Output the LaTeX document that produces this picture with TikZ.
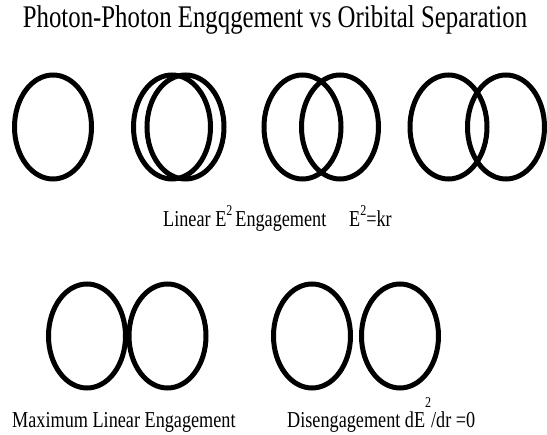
\documentclass[tikz,border=0pt]{standalone}
\usepackage{fontspec}
\setmainfont{Liberation Serif}
\usetikzlibrary{shapes.geometric, positioning}
\tikzstyle{orbit}   = [ellipse, draw=black, line width=5pt, minimum width=77pt,
                       minimum height=104pt, inner sep=0pt]
\tikzstyle{heading} = [font=\fontsize{24.8}{28}\selectfont, yscale=1.27,
                       transform shape, inner sep=0pt]
\tikzstyle{caption} = [font=\fontsize{18.2}{22}\selectfont, yscale=1.25,
                       transform shape, inner sep=0pt]
\newcommand{\sqr}[1]{\raisebox{#1}{\fontsize{12}{12}\selectfont 2}}

\begin{document}
\begin{tikzpicture}[x=1pt, y=1pt]
  \useasboundingbox (0,0) rectangle (547,-435);

  % Title
  \node (title) [heading, anchor=base] at (275,-28)
    {Photon-Photon Engqgement vs Oribital Separation};

  % Top row of orbits
  \node (r1a) [orbit] at (53,-127)    {};
  \node (r2a) [orbit] at (172,-127)   {};
  \node (r2b) [orbit] at (185.5,-127) {};
  \node (r3a) [orbit] at (302.5,-127) {};
  \node (r3b) [orbit] at (340,-127)   {};
  \node (r4a) [orbit] at (448.5,-127) {};
  \node (r4b) [orbit] at (506,-127)   {};

  % Labels under top row
  \node (linear) [caption, anchor=base west] at (163,-227)
    {Linear E\sqr{0.5em}\,Engagement};
  \node (law)    [caption, anchor=base west] at (349,-227)
    {E\sqr{0.5em}=kr};

  % Bottom row of orbits
  \node (maxa) [orbit] at (87,-336)    {};
  \node (maxb) [orbit] at (167.5,-336) {};
  \node (disa) [orbit] at (312,-336)   {};
  \node (disb) [orbit] at (400,-336)   {};

  % Labels under bottom row
  \node (maxlbl) [caption, anchor=base west] at (12,-428)
    {Maximum Linear Engagement};
  \node (dislbl) [caption, anchor=base west] at (287,-428)
    {Disengagement dE\sqr{0.9em}/dr =0};

\end{tikzpicture}
\end{document}
